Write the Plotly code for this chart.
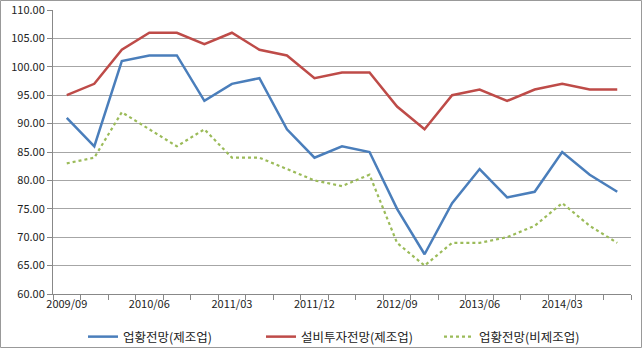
import plotly.graph_objects as go

quarters = ["2009/09", "2009/12", "2010/03", "2010/06", "2010/09", "2010/12", "2011/03",
            "2011/06", "2011/09", "2011/12", "2012/03", "2012/06", "2012/09", "2012/12",
            "2013/03", "2013/06", "2013/09", "2013/12", "2014/03", "2014/06", "2014/09"]
mfg_outlook = [91, 86, 101, 102, 102, 94, 97, 98, 89, 84, 86, 85, 75, 67, 76, 82, 77, 78, 85, 81, 78]
mfg_invest = [95, 97, 103, 106, 106, 104, 106, 103, 102, 98, 99, 99, 93, 89, 95, 96, 94, 96, 97, 96, 96]
nonmfg_outlook = [83, 84, 92, 89, 86, 89, 84, 84, 82, 80, 79, 81, 69, 65, 69, 69, 70, 72, 76, 72, 69]
series_names = ["업황전망(제조업)", "설비투자전망(제조업)", "업황전망(비제조업)"]
tick_labels = ["2009/09", "2010/06", "2011/03", "2011/12", "2012/09", "2013/06", "2014/03"]

W, H = 642, 348
ML, MR, MT, MB = 53, 11, 10, 54

xs = list(range(len(quarters)))
tick_pos = [quarters.index(t) for t in tick_labels]

fig = go.Figure()
fig.add_trace(go.Scatter(x=xs, y=mfg_outlook, mode="lines", name=series_names[0],
                         line=dict(color="#4A7EBB", width=2.5)))
fig.add_trace(go.Scatter(x=xs, y=mfg_invest, mode="lines", name=series_names[1],
                         line=dict(color="#BE4B48", width=2.5)))
fig.add_trace(go.Scatter(x=xs, y=nonmfg_outlook, mode="lines", name=series_names[2],
                         line=dict(color="#9BBB59", width=2.2, dash="dot")))

font_family = "Noto Sans CJK KR"
fig.update_layout(
    width=W, height=H,
    margin=dict(l=ML, r=MR, t=MT, b=MB, autoexpand=False),
    paper_bgcolor="white", plot_bgcolor="white",
    font=dict(family=font_family, size=11, color="#222222"),
    showlegend=True,
    legend=dict(orientation="h", x=83 / W, xanchor="left", xref="container",
                y=1 - 337 / H, yanchor="middle", yref="container",
                font=dict(size=12.5, color="#222222"), entrywidth=133, entrywidthmode="pixels",
                bgcolor="rgba(0,0,0,0)", itemwidth=30),
    xaxis=dict(range=[-0.5, len(quarters) - 0.5], tickmode="array", tickvals=tick_pos,
               ticktext=tick_labels, ticks="", showgrid=False, zeroline=False,
               showline=True, linecolor="#888888", linewidth=1,
               tickfont=dict(size=11), automargin=False,
               minor=dict(tick0=-0.5, dtick=1, ticks="outside", ticklen=5,
                          tickcolor="#888888", showgrid=False)),
    yaxis=dict(range=[60, 110], dtick=5, tick0=60, tickformat=".2f", showgrid=True,
               gridcolor="#A6A6A6", gridwidth=1, zeroline=False, showline=True,
               linecolor="#888888", linewidth=1, ticks="outside", ticklen=5,
               tickcolor="#888888", tickfont=dict(size=11), automargin=False),
)

pw = W - ML - MR
ph = H - MT - MB
fig.add_shape(type="rect", xref="paper", yref="paper",
              x0=(0.5 - ML) / pw, x1=(W - 0.5 - ML) / pw,
              y0=-(MB - 0.5) / ph, y1=1 + (MT - 0.5) / ph,
              line=dict(color="#999999", width=1), fillcolor="rgba(0,0,0,0)", layer="below")

fig.write_html("out.html")
